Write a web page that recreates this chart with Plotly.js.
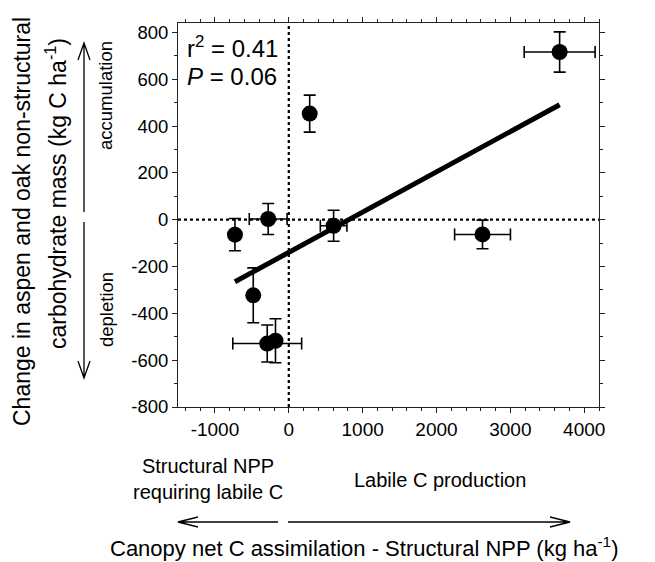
<!DOCTYPE html>
<html>
<head>
<meta charset="utf-8">
<script src="https://cdn.plot.ly/plotly-3.0.1.min.js"></script>
<style>html,body{margin:0;padding:0;background:#fff;}#chart{width:655px;height:562px;}</style>
</head>
<body>
<div id="chart"></div>
<script>
// Data
const xVals = [3667, 283, -279, -729, 607, 2623, -481, -292, -180];
const yVals = [716, 453, 3, -64, -26, -63, -323, -529, -517];
const xErr  = [480, 0, 256, 0, 180, 378, 0, 466, 0];
const yErr  = [86, 79, 66, 69, 66, 61, 117, 79, 94];
const fitX = [-729, 3667];
const fitY = [-265, 491];
const xTickVals = [-1000, 0, 1000, 2000, 3000, 4000];
const yTickVals = [-800, -600, -400, -200, 0, 200, 400, 600, 800];

const FONT = 'Arial, "Liberation Sans", sans-serif';
const L = 178, T = 23, W = 421, H = 384;
const px = x => (x - L) / W;
const py = y => (T + H - y) / H;

function arrow(x0, y0, x1, y1, len, half) {
  const dx = x1 - x0, dy = y1 - y0, d = Math.hypot(dx, dy);
  const ux = dx / d, uy = dy / d;
  const bx = x1 - ux * len, by = y1 - uy * len;
  const nx = -uy, ny = ux;
  const p = (x, y) => px(x).toFixed(5) + ',' + py(y).toFixed(5);
  return {
    type: 'path', xref: 'paper', yref: 'paper',
    path: 'M' + p(x0, y0) + 'L' + p(x1, y1) +
          'M' + p(bx + nx * half, by + ny * half) + 'L' + p(x1, y1) + 'L' + p(bx - nx * half, by - ny * half),
    line: {color: 'black', width: 1.3}
  };
}

function label(x, y, text, size, angle, xanchor) {
  return {xref: 'paper', yref: 'paper', x: px(x), y: py(y), text: text, showarrow: false,
          xanchor: xanchor || 'center', yanchor: 'middle', textangle: angle || 0,
          font: {size: size, family: FONT, color: 'black'}};
}

const traces = [
  {
    x: fitX, y: fitY, mode: 'lines', type: 'scatter',
    line: {color: 'black', width: 5}, hoverinfo: 'skip'
  },
  {
    x: xVals, y: yVals, mode: 'markers', type: 'scatter',
    marker: {color: 'black', size: 16},
    error_x: {type: 'data', array: xErr, visible: true, color: 'black', thickness: 1.6, width: 6},
    error_y: {type: 'data', array: yErr, visible: true, color: 'black', thickness: 1.6, width: 6}
  }
];

const layout = {
  width: 655, height: 562,
  margin: {l: L, r: 655 - L - W, t: T, b: 562 - T - H},
  showlegend: false,
  paper_bgcolor: 'white', plot_bgcolor: 'white',
  font: {family: FONT, color: 'black', size: 18},
  xaxis: {
    range: [-1500, 4200], tickvals: xTickVals, ticktext: xTickVals.map(String),
    showgrid: false, zeroline: false, showline: true, mirror: 'ticks', linecolor: '#222', linewidth: 1,
    ticks: 'outside', ticklen: 5, tickcolor: '#222',
    minor: {dtick: 200, tick0: 0, ticks: 'outside', ticklen: 3, tickcolor: '#222'},
    tickfont: {size: 19, family: FONT, color: 'black'}
  },
  yaxis: {
    range: [-800, 840], tickvals: yTickVals, ticktext: yTickVals.map(String),
    showgrid: false, zeroline: false, showline: true, mirror: 'ticks', linecolor: '#222', linewidth: 1,
    ticks: 'outside', ticklen: 5, tickcolor: '#222',
    minor: {dtick: 100, tick0: 0, ticks: 'outside', ticklen: 3, tickcolor: '#222'},
    tickfont: {size: 18.5, family: FONT, color: 'black'}
  },
  shapes: [
    {type: 'line', xref: 'x', yref: 'paper', x0: 0, x1: 0, y0: 0, y1: 1,
     line: {color: 'black', width: 2.2, dash: 'dot'}, layer: 'below'},
    {type: 'line', xref: 'paper', yref: 'y', x0: 0, x1: 1, y0: 0, y1: 0,
     line: {color: 'black', width: 2.2, dash: 'dot'}, layer: 'below'},
    arrow(84, 212, 84, 43, 17, 6),
    arrow(84, 222, 84, 378, 17, 6),
    arrow(278, 522, 178, 522, 20, 5),
    arrow(288, 522, 570, 522, 20, 5)
  ],
  annotations: [
    label(185, 47, 'r<sup>2</sup> = 0.41', 24, 0, 'left'),
    label(185, 76, '<i>P</i> = 0.06', 24, 0, 'left'),
    label(22, 222, 'Change in aspen and oak non-structural', 23, -90),
    label(56, 193, 'carbohydrate mass (kg C ha<sup>-1</sup>)', 23, -90),
    label(106, 96, 'accumulation', 18.5, -90),
    label(106, 310, 'depletion', 18.5, -90),
    label(208, 479, 'Structural NPP<br>requiring labile C', 20),
    label(440, 480, 'Labile C production', 20),
    label(364, 547, 'Canopy net C assimilation - Structural NPP (kg ha<sup>-1</sup>)', 22)
  ]
};

Plotly.newPlot('chart', traces, layout, {displayModeBar: false, staticPlot: true});
</script>
</body>
</html>
